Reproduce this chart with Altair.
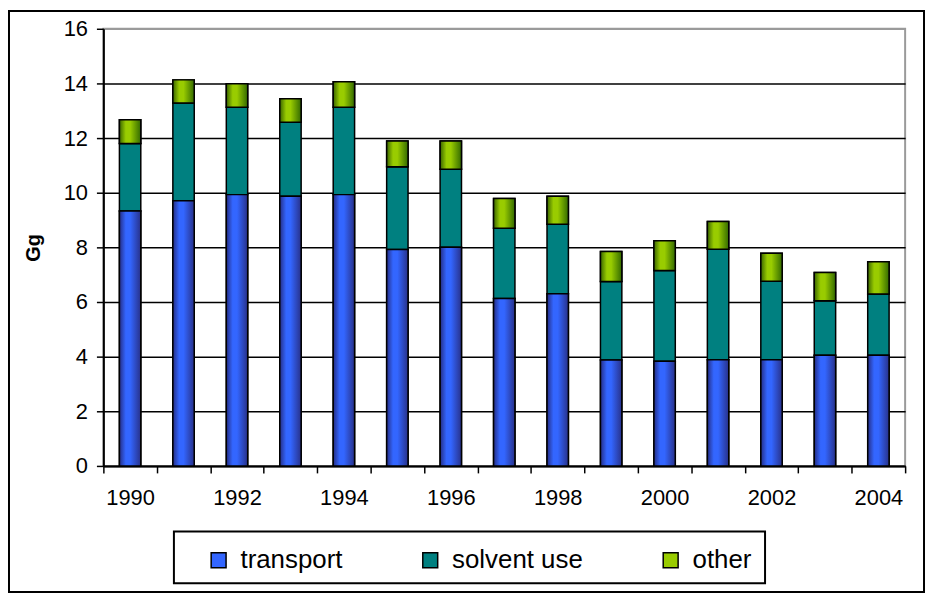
import altair as alt
import pandas as pd

years = list(range(1990, 2005))
transport = [9.33, 9.71, 9.93, 9.87, 9.93, 7.92, 8.00, 6.13, 6.30, 3.88, 3.83, 3.89, 3.89, 4.05, 4.05]
solvent_use = [2.47, 3.57, 3.20, 2.71, 3.20, 3.03, 2.86, 2.57, 2.55, 2.87, 3.32, 4.04, 2.87, 2.00, 2.24]
other = [0.87, 0.85, 0.86, 0.86, 0.93, 0.94, 1.03, 1.09, 1.02, 1.10, 1.09, 1.02, 1.02, 1.03, 1.18]
series = ["transport", "solvent use", "other"]
colors = ["#3366ff", "#008080", "#99cc00"]
y_ticks = [0, 2, 4, 6, 8, 10, 12, 14, 16]

rows = []
for i, yr in enumerate(years):
    base = 0.0
    for name, vals in zip(series, [transport, solvent_use, other]):
        rows.append({"year": yr, "series": name, "value": vals[i],
                     "start": base, "end": base + vals[i], "order": series.index(name)})
        base += vals[i]
df = pd.DataFrame(rows)

FONT = "Liberation Sans"

x_enc = alt.X("year:O", title=None,
              scale=alt.Scale(paddingInner=0, paddingOuter=0),
              axis=alt.Axis(tickBand="extent", labelAngle=0, labelOverlap=False,
                            labelExpr="datum.value % 2 == 0 ? datum.label : ''",
                            tickSize=7, tickColor="black", tickWidth=1.5,
                            domainColor="black", domainWidth=2,
                            labelFontSize=22, labelColor="black", labelPadding=15,
                            grid=False))
y_enc = alt.Y("end:Q", title="Gg",
              scale=alt.Scale(domain=[0, 16], nice=False),
              axis=alt.Axis(values=y_ticks, tickSize=7, tickColor="black", tickWidth=1.5,
                            domainColor="black", domainWidth=2,
                            labelFontSize=22, labelColor="black", labelPadding=9,
                            grid=True,
                            gridColor={"condition": {"test": "datum.value >= 16", "value": "#9a9a9a"},
                                       "value": "black"},
                            gridWidth=1.5,
                            titleFontSize=20, titleFontWeight="bold", titleColor="black",
                            titlePadding=20))

bar_w = alt.RelativeBandSize(0.4)

base = alt.Chart(df).mark_bar(width=bar_w, stroke="black", strokeWidth=1.5).encode(
    x=x_enc, y=y_enc, y2="start:Q",
    color=alt.Color("series:N",
                    scale=alt.Scale(domain=series, range=colors),
                    sort=series,
                    legend=alt.Legend(orient="none", legendX=103, legendY=522,
                                      direction="horizontal", title=None,
                                      symbolType="square", symbolSize=225,
                                      symbolStrokeColor="black", symbolStrokeWidth=1.5,
                                      symbolOpacity=1,
                                      labelFontSize=26, labelColor="black", labelFont=FONT,
                                      labelOffset=9, columnPadding=75, padding=0)),
    order=alt.Order("order:Q"),
)

blue_grad = alt.LinearGradient(gradient="linear", x1=0, x2=1, y1=0, y2=0, stops=[
    alt.GradientStop(offset=0, color="#252d85"),
    alt.GradientStop(offset=0.3, color="#3366ff"),
    alt.GradientStop(offset=0.5, color="#3366ff"),
    alt.GradientStop(offset=1, color="#28318a"),
])
green_grad = alt.LinearGradient(gradient="linear", x1=0, x2=1, y1=0, y2=0, stops=[
    alt.GradientStop(offset=0, color="#3a6600"),
    alt.GradientStop(offset=0.3, color="#99cc00"),
    alt.GradientStop(offset=0.5, color="#99cc00"),
    alt.GradientStop(offset=1, color="#336a00"),
])

blue = alt.Chart(df).transform_filter(alt.datum.series == "transport").mark_bar(
    width=bar_w, fill=blue_grad, stroke="black", strokeWidth=1.5).encode(
    x=x_enc, y=y_enc, y2="start:Q")
green = alt.Chart(df).transform_filter(alt.datum.series == "other").mark_bar(
    width=bar_w, fill=green_grad, stroke="black", strokeWidth=1.5).encode(
    x=x_enc, y=y_enc, y2="start:Q")

one = pd.DataFrame({"k": [0]})
border = alt.Chart(one).mark_rect(fillOpacity=0, stroke="black", strokeWidth=2).encode(
    x=alt.value(-95), x2=alt.value(826), y=alt.value(-18), y2=alt.value(567))
legend_box = alt.Chart(one).mark_rect(fillOpacity=0, stroke="black", strokeWidth=2).encode(
    x=alt.value(71), x2=alt.value(666), y=alt.value(506), y2=alt.value(558))

chart = alt.layer(base, blue, green, border, legend_box).properties(
    width=807, height=440,
    autosize=alt.AutoSizeParams(type="none"),
    padding={"left": 96, "top": 19, "right": 20, "bottom": 129},
).configure(font=FONT).configure_view(stroke="#9a9a9a", strokeWidth=2)

chart.save("out.html", embed_options={"renderer": "svg", "actions": False})
